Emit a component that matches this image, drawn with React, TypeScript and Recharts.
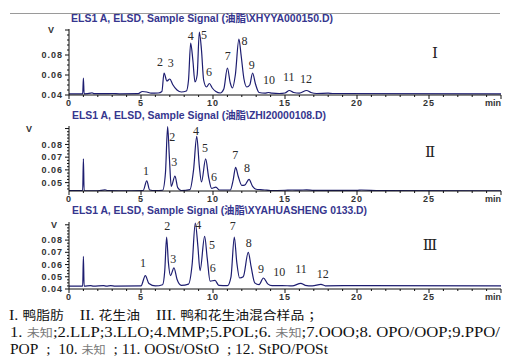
import React from "react";
import { LineChart, Line, XAxis, YAxis, ReferenceDot } from "recharts";

// retention time (min) and ELSD signal (V)
const duckTime = [0, 0.95, 1.0, 1.05, 1.5, 1.6, 1.75, 2.5, 3.0, 3.5, 4.8, 5.1, 5.4, 5.7, 6.2, 6.45, 6.6, 6.8, 7.0, 7.2, 7.5, 7.8, 8.15, 8.3, 8.45, 8.6, 8.75, 8.9, 9.05, 9.2, 9.35, 9.55, 9.75, 9.95, 10.2, 10.5, 10.75, 11.0, 11.2, 11.35, 11.55, 11.8, 11.95, 12.15, 12.35, 12.55, 12.75, 12.95, 13.2, 13.6, 13.85, 14.1, 14.6, 15.0, 15.3, 15.6, 16.0, 16.5, 16.8, 17.2, 18.0, 18.3, 30];
const duckSignal = [0.0412, 0.0412, 0.057, 0.0412, 0.0418, 0.0422, 0.0413, 0.0413, 0.0415, 0.0412, 0.0413, 0.0435, 0.043, 0.0418, 0.042, 0.0435, 0.062, 0.054, 0.056, 0.0505, 0.045, 0.043, 0.044, 0.055, 0.092, 0.075, 0.053, 0.06, 0.103, 0.085, 0.055, 0.048, 0.0515, 0.047, 0.0435, 0.042, 0.046, 0.067, 0.052, 0.047, 0.06, 0.096, 0.08, 0.056, 0.048, 0.05, 0.062, 0.051, 0.0425, 0.0418, 0.0425, 0.0418, 0.0415, 0.042, 0.0445, 0.0425, 0.0418, 0.0445, 0.0425, 0.0415, 0.0418, 0.0415, 0.0412];

const peanutTime = [0, 0.95, 1.0, 1.05, 2.0, 2.5, 2.7, 3.5, 5.15, 5.4, 5.6, 6.0, 6.5, 6.7, 6.85, 6.97, 7.1, 7.36, 7.55, 7.8, 8.4, 8.65, 8.87, 9.05, 9.2, 9.49, 9.7, 9.9, 10.2, 10.45, 11.2, 11.4, 11.57, 11.75, 12.0, 12.2, 12.5, 12.75, 13.0, 13.3, 13.6, 14.0, 15.0, 15.5, 16.0, 16.5, 17.0, 20.0, 20.3, 21.6, 30];
const peanutSignal = [0.0438, 0.0438, 0.0686, 0.0438, 0.0436, 0.0443, 0.0437, 0.0436, 0.0438, 0.0513, 0.0442, 0.0437, 0.044, 0.058, 0.094, 0.07, 0.047, 0.0552, 0.046, 0.0438, 0.0445, 0.06, 0.0863, 0.063, 0.0505, 0.0686, 0.054, 0.0455, 0.0464, 0.0442, 0.0442, 0.052, 0.062, 0.055, 0.0478, 0.048, 0.0526, 0.047, 0.0448, 0.0445, 0.0442, 0.0438, 0.044, 0.0442, 0.0441, 0.0443, 0.0439, 0.0439, 0.0442, 0.0437, 0.0436];

const mixTime = [0, 0.95, 1.0, 1.05, 1.5, 1.7, 2.4, 2.6, 2.9, 3.2, 5.0, 5.3, 5.55, 6.0, 6.5, 6.65, 6.78, 6.9, 7.05, 7.29, 7.5, 7.8, 8.3, 8.55, 8.77, 8.95, 9.1, 9.42, 9.6, 9.8, 10.14, 10.4, 11.0, 11.25, 11.48, 11.65, 11.85, 12.1, 12.45, 12.65, 12.9, 13.2, 13.5, 13.8, 14.1, 14.8, 15.5, 16.1, 16.4, 16.9, 17.5, 17.8, 20.3, 30];
const mixSignal = [0.0424, 0.0424, 0.0668, 0.0424, 0.0428, 0.0424, 0.0428, 0.0424, 0.0427, 0.0423, 0.0425, 0.051, 0.0445, 0.0425, 0.0435, 0.055, 0.0824, 0.062, 0.051, 0.0573, 0.048, 0.043, 0.044, 0.06, 0.0938, 0.075, 0.055, 0.083, 0.065, 0.0465, 0.047, 0.043, 0.0427, 0.05, 0.0824, 0.062, 0.049, 0.05, 0.07, 0.058, 0.045, 0.0435, 0.049, 0.0442, 0.0427, 0.0428, 0.0425, 0.0446, 0.043, 0.0425, 0.0438, 0.0426, 0.0428, 0.0425];

// peak numbers and where they are written
const duckPeaks = ["2", "3", "4", "5", "6", "7", "8", "9", "10", "11", "12"];
const duckPeakTime = [6.32, 7.06, 8.45, 9.38, 9.72, 11.02, 12.18, 12.69, 13.89, 15.26, 16.46];
const duckPeakSignal = [0.0737, 0.072, 0.0997, 0.1003, 0.063, 0.0797, 0.0947, 0.0703, 0.0557, 0.058, 0.0563];

const peanutPeaks = ["1", "2", "3", "4", "5", "6", "7", "8"];
const peanutPeakTime = [5.35, 7.17, 7.31, 8.82, 9.44, 10.07, 11.55, 12.36];
const peanutPeakSignal = [0.0589, 0.0864, 0.066, 0.0908, 0.0772, 0.0542, 0.0715, 0.0615];

const mixPeaks = ["1", "2", "3", "4", "5", "6", "7", "8", "9", "10", "11", "12"];
const mixPeakTime = [5.14, 6.83, 7.24, 8.98, 9.93, 9.98, 11.37, 12.48, 13.33, 14.6, 16.11, 17.62];
const mixPeakSignal = [0.0618, 0.0916, 0.0651, 0.0927, 0.0759, 0.0575, 0.0916, 0.0781, 0.0565, 0.0537, 0.0565, 0.0524];

// axis labels
const xLabels = [0, 5, 10, 15, 20, 25];
const duckYLabels = [0.04, 0.06, 0.08];
const peanutYLabels = [0.05, 0.06, 0.07, 0.08];
const mixYLabels = [0.04, 0.05, 0.06, 0.07, 0.08];

const LINE = "#1d1d70";
const AXIS = "#111";
const SANS = "Liberation Sans, Arial, 'Noto Sans CJK SC'";
const SERIF = "'Liberation Serif', 'Times New Roman', serif";
const CJK = "'Noto Sans CJK SC'";
const SP = "\u00a0";

function steps(from: number, to: number, step: number) {
  const out: number[] = [];
  for (let v = from; v <= to + 1e-9; v += step) out.push(Math.round(v * 10000) / 10000);
  return out;
}

const xTicks = steps(0, 30, 1);

function toRows(time: number[], signal: number[]) {
  return time.map((t, i) => ({ t, v: signal[i] }));
}

const XTick = (p: any) => {
  const { x, y, payload } = p;
  const v = payload.value;
  const major = v % 5 === 0;
  return (
    <g>
      <line x1={x} x2={x} y1={y} y2={y + (major ? 4 : 2)} stroke={AXIS} />
      {major && (
        <text
          x={x}
          y={y + 5}
          dy="0.71em"
          textAnchor={v === 30 ? "end" : "middle"}
          fontFamily={SANS}
          fontWeight="bold"
          fontSize={9}
          letterSpacing={v === 30 ? 0 : 1}
          fill="#333"
        >
          {v === 30 ? "min" : xLabels.includes(v) ? v : ""}
        </text>
      )}
    </g>
  );
};

function makeYTick(labels: number[], vTick: number, vRight: number) {
  return (p: any) => {
    const { x, y, payload } = p;
    const val = payload.value;
    const isV = Math.abs(val - vTick) < 1e-6;
    const isLabel = labels.some((l) => Math.abs(l - val) < 1e-6);
    return (
      <g>
        <line x1={x} x2={x - (isLabel || isV ? 4 : 2)} y1={y} y2={y} stroke={AXIS} />
        {isLabel && (
          <text x={x - 6} y={y} dy="0.35em" textAnchor="end" fontFamily={SANS} fontWeight="bold" fontSize={9} letterSpacing={1} fill="#333">
            {val.toFixed(2)}
          </text>
        )}
        {isV && (
          <text x={vRight} y={y} dy="0.35em" textAnchor="end" fontFamily={SANS} fontWeight="bold" fontSize={9} fill="#333">
            V
          </text>
        )}
      </g>
    );
  };
}

interface PanelProps {
  top: number;
  plotHeight: number;
  time: number[];
  signal: number[];
  domain: [number, number];
  yTicks: number[];
  yLabels: number[];
  vTick: number;
  vRight: number;
  peaks: string[];
  peakTime: number[];
  peakSignal: number[];
}

function Chromatogram(props: PanelProps) {
  const height = props.plotHeight + 30;
  return (
    <div style={{ position: "absolute", left: 0, top: props.top - 10, width: 519, height }}>
      <LineChart
        width={519}
        height={height}
        data={toRows(props.time, props.signal)}
        margin={{ top: 10, right: 18, bottom: 0, left: 0 }}
      >
        <XAxis
          type="number"
          dataKey="t"
          domain={[0, 30]}
          ticks={xTicks}
          interval={0}
          height={20}
          tickSize={0}
          tickMargin={0}
          tickLine={false}
          axisLine={{ stroke: AXIS }}
          tick={XTick}
          allowDataOverflow
        />
        <YAxis
          type="number"
          domain={props.domain}
          ticks={props.yTicks}
          interval={0}
          width={69}
          tickSize={0}
          tickMargin={0}
          tickLine={false}
          axisLine={{ stroke: AXIS }}
          tick={makeYTick(props.yLabels, props.vTick, props.vRight)}
          allowDataOverflow
        />
        <Line
          type="monotone"
          dataKey="v"
          stroke={LINE}
          strokeWidth={1.2}
          dot={false}
          isAnimationActive={false}
        />
        {props.peaks.map((label, i) => (
          <ReferenceDot
            key={label + i}
            x={props.peakTime[i]}
            y={props.peakSignal[i]}
            r={0}
            shape={(s: any) => (
              <text
                x={s.cx}
                y={s.cy}
                dy="0.35em"
                textAnchor="middle"
                fontFamily={SERIF}
                fontSize={12}
                fill="#2a2a2a"
              >
                {label}
              </text>
            )}
          />
        ))}
      </LineChart>
    </div>
  );
}

const grey = "#7a7a7a";

function Annotations() {
  const title = { fontFamily: SANS, fontWeight: "bold" as const, fontSize: 10, fill: "#36368e", lengthAdjust: "spacingAndGlyphs" };
  const caption = { fontFamily: SERIF, fontSize: 14, fill: "#111", lengthAdjust: "spacingAndGlyphs" };
  const numeral = { fontFamily: "'DejaVu Serif', 'Liberation Serif', serif", fontSize: 15, fill: "#222", textAnchor: "middle" as const };
  return (
    <svg width={519} height={362} style={{ position: "absolute", left: 0, top: 0, pointerEvents: "none" }}>
      <line x1={10} x2={500} y1={13.5} y2={13.5} stroke="#9a9a9a" />

      <text {...title} x={71} y={21.5} textLength={262}>ELS1 A, ELSD, Sample Signal (油脂\XHYYA000150.D)</text>
      <text {...title} x={72} y={118.5} textLength={254}>ELS1 A, ELSD, Sample Signal (油脂\ZHI20000108.D)</text>
      <text {...title} x={72} y={213.5} textLength={295}>ELS1 A, ELSD, Sample Signal (油脂\XYAHUASHENG 0133.D)</text>

      <text {...numeral} x={435} y={58}>Ⅰ</text>
      <text {...numeral} x={430} y={157}>Ⅱ</text>
      <text {...numeral} x={430} y={250}>Ⅲ</text>

      <text {...caption} x={9} y={320} textLength={313}>
        {"I." + SP}
        <tspan fontFamily={CJK} fontSize={12}>鸭脂肪</tspan>
        {SP + SP + SP + SP + "II." + SP}
        <tspan fontFamily={CJK} fontSize={12}>花生油</tspan>
        {SP + SP + SP + SP + "III." + SP}
        <tspan fontFamily={CJK} fontSize={12}>鸭和花生油混合样品</tspan>
        {SP}
        <tspan fontFamily={CJK} fontSize={12}>；</tspan>
      </text>
      <text {...caption} x={10} y={337} textLength={490}>
        {"1." + SP}
        <tspan fontFamily={CJK} fontSize={11} fill={grey}>未知</tspan>
        {";2.LLP;3.LLO;4.MMP;5.POL;6." + SP}
        <tspan fontFamily={CJK} fontSize={11} fill={grey}>未知</tspan>
        {";7.OOO;8." + SP + "OPO/OOP;9.PPO/"}
      </text>
      <text {...caption} x={10} y={354} textLength={318}>
        {"POP" + SP + SP + ";" + SP + SP + "10." + SP}
        <tspan fontFamily={CJK} fontSize={11} fill={grey}>未知</tspan>
        {SP + SP + ";" + SP + "11." + SP + "OOSt/OStO" + SP + SP + ";" + SP + "12." + SP + "StPO/POSt"}
      </text>
    </svg>
  );
}

export default function App() {
  return (
    <div style={{ position: "absolute", left: 0, top: 0, width: 519, height: 362, background: "#fff", overflow: "hidden" }}>
      <Chromatogram
        top={29}
        plotHeight={66}
        time={duckTime}
        signal={duckSignal}
        domain={[0.04, 0.106]}
        yTicks={steps(0.04, 0.105, 0.005)}
        yLabels={duckYLabels}
        vTick={0.105}
        vRight={54}
        peaks={duckPeaks}
        peakTime={duckPeakTime}
        peakSignal={duckPeakSignal}
      />
      <Chromatogram
        top={126}
        plotHeight={65}
        time={peanutTime}
        signal={peanutSignal}
        domain={[0.0434, 0.0945]}
        yTicks={steps(0.045, 0.0925, 0.0025)}
        yLabels={peanutYLabels}
        vTick={0.0925}
        vRight={32}
        peaks={peanutPeaks}
        peakTime={peanutPeakTime}
        peakSignal={peanutPeakSignal}
      />
      <Chromatogram
        top={222}
        plotHeight={67}
        time={mixTime}
        signal={mixSignal}
        domain={[0.04, 0.0948]}
        yTicks={steps(0.04, 0.0925, 0.0025)}
        yLabels={mixYLabels}
        vTick={0.0925}
        vRight={57}
        peaks={mixPeaks}
        peakTime={mixPeakTime}
        peakSignal={mixPeakSignal}
      />
      <Annotations />
    </div>
  );
}
